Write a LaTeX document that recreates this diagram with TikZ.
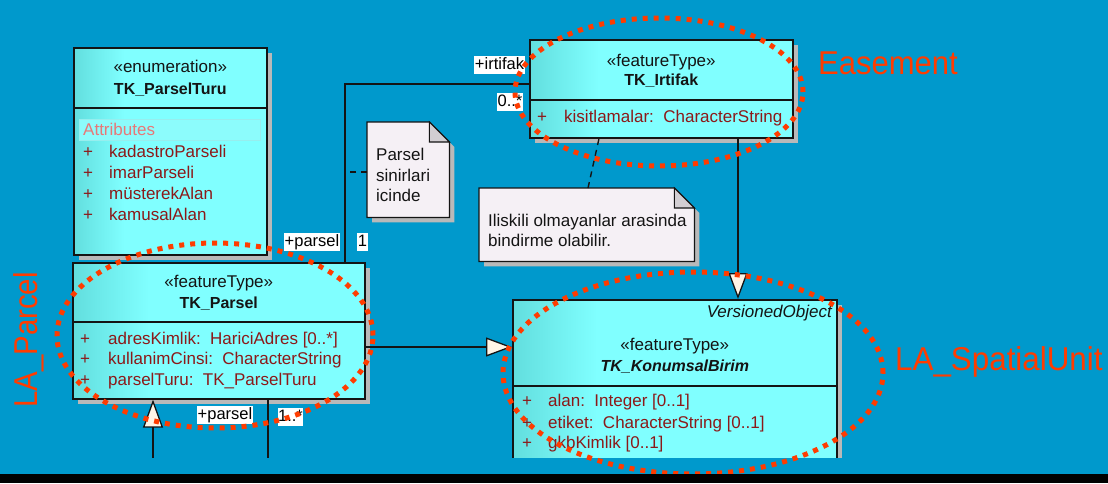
\documentclass[tikz,border=0pt]{standalone}
\usepackage{fontspec}
\setmainfont{Liberation Sans}
\usetikzlibrary{arrows.meta,calc,shadows}
\definecolor{bg}{RGB}{0,153,204}
\definecolor{cyL}{RGB}{128,255,255}
\definecolor{cyD}{RGB}{98,222,222}
\definecolor{attr}{RGB}{140,25,25}
\definecolor{attrhdr}{RGB}{232,120,120}
\definecolor{shgrey}{RGB}{185,185,185}
\definecolor{notefill}{RGB}{245,240,245}
\definecolor{earfill}{RGB}{210,206,210}
\definecolor{tipfill}{RGB}{255,245,230}
\definecolor{hl}{RGB}{255,60,0}
\definecolor{lineblk}{RGB}{20,20,20}
\definecolor{bandfill}{RGB}{140,252,252}
\definecolor{bandline}{RGB}{150,238,238}
\pgfdeclarehorizontalshading{umlgrad}{100bp}{color(0bp)=(cyD); color(25bp)=(cyD); color(38bp)=(cyL); color(100bp)=(cyL)}
\newcommand\umlnote[1]{%
  \fill[shgrey] ($(#1.north west)+(5,5)$) -- ($(#1.north east)+(-15,5)$) -- ($(#1.north east)+(5,25)$) -- ($(#1.south east)+(5,5)$) -- ($(#1.south west)+(5,5)$) -- cycle;
  \filldraw[fill=notefill, draw=lineblk, line width=1.3pt, line join=miter] (#1.north west) -- ($(#1.north east)+(-20,0)$) -- ($(#1.north east)+(0,20)$) -- (#1.south east) -- (#1.south west) -- cycle;
  \filldraw[fill=earfill, draw=lineblk, line width=1.1pt] ($(#1.north east)+(-20,0)$) -- ($(#1.north east)+(0,20)$) -- ($(#1.north east)+(-20,20)$) -- cycle;
}
\begin{document}
\begin{tikzpicture}[x=1pt,y=-1pt,
  umlbox/.style={draw=lineblk, line width=1.6pt, shading=umlgrad, anchor=north west, inner sep=0pt,
    drop shadow={shadow xshift=5pt, shadow yshift=-5pt, fill=shgrey, opacity=1}},
  notebox/.style={anchor=north west, inner sep=0pt},
  sepline/.style={draw=lineblk, line width=1.6pt},
  stereo/.style={font=\fontsize{17}{20}\selectfont, text=lineblk, anchor=base, inner sep=0pt},
  titletxt/.style={font=\fontsize{16}{20}\selectfont\bfseries, text=lineblk, anchor=base, inner sep=0pt},
  attrtxt/.style={font=\fontsize{17}{20}\selectfont, text=attr, anchor=base west, inner sep=0pt},
  notetxt/.style={font=\fontsize{17}{20}\selectfont, text=lineblk, anchor=base west, inner sep=0pt},
  rolelbl/.style={fill=white, font=\fontsize{16.5}{20}\selectfont, text=black, inner xsep=0.5pt, inner ysep=1pt, text height=12.5pt, text depth=3.5pt},
  conn/.style={draw=lineblk, line width=1.5pt},
  gen/.style={conn, -{Triangle[length=26pt, width=19pt, fill=tipfill, line width=1.3pt]}},
  notelink/.style={draw=lineblk, line width=1.4pt, dash pattern=on 6pt off 5pt},
  hlring/.style={draw=hl, line width=5pt, dash pattern=on 5pt off 6pt},
  biglbl/.style={font=\fontsize{33}{36}\selectfont, text=hl, inner sep=0pt}
]
\useasboundingbox (0,0) rectangle (1108,483);
\fill[bg] (0,0) rectangle (1108,483);

\begin{scope}
\clip (0,0) rectangle (1108,457.5);

% ---- TK_ParselTuru
\node[umlbox, minimum width=193pt, minimum height=207pt] (turu) at (73,47) {};
\draw[sepline] (turu.west |- 0,108) -- (turu.east |- 0,108);
\node[stereo] at ($(turu.north)+(0,25)$) {«enumeration»};
\node[titletxt] at ($(turu.north)+(0,47)$) {TK\_ParselTuru};
\filldraw[fill=bandfill, draw=bandline, line width=1pt] (79,119) rectangle (260,140);
\node[attrtxt, text=attrhdr] at (83,135) {Attributes};
\foreach \y/\t in {157/kadastroParseli, 178/imarParseli, 199/müsterekAlan, 220/kamusalAlan}{
  \node[attrtxt] at (83,\y) {+};
  \node[attrtxt] at (109,\y) {\t};
}

% ---- TK_Parsel
\node[umlbox, minimum width=292pt, minimum height=136pt] (parsel) at (72,262) {};
\draw[sepline] (parsel.west |- 0,322) -- (parsel.east |- 0,322);
\node[stereo] at ($(parsel.north)+(0,25)$) {«featureType»};
\node[titletxt] at ($(parsel.north)+(0,46)$) {TK\_Parsel};
\node[attrtxt] at (80,344) {+};
\node[attrtxt] at (108,344) {adresKimlik:\ \ HariciAdres [0..*]};
\node[attrtxt] at (80,364.5) {+};
\node[attrtxt] at (108,364.5) {kullanimCinsi:\ \ CharacterString};
\node[attrtxt] at (80,385) {+};
\node[attrtxt] at (108,385) {parselTuru:\ \ TK\_ParselTuru};

% ---- TK_Irtifak
\node[umlbox, minimum width=263pt, minimum height=98pt] (irtifak) at (529,39) {};
\draw[sepline] (irtifak.west |- 0,100) -- (irtifak.east |- 0,100);
\node[stereo] at ($(irtifak.north)+(0,27)$) {«featureType»};
\node[titletxt] at ($(irtifak.north)+(0,46)$) {TK\_Irtifak};
\node[attrtxt] at (537,122) {+};
\node[attrtxt] at (564,122) {kisitlamalar:\ \ CharacterString};

% ---- TK_KonumsalBirim
\node[umlbox, minimum width=324pt, minimum height=190pt] (konum) at (512,299) {};
\draw[sepline] (konum.west |- 0,386) -- (konum.east |- 0,386);
\node[stereo, anchor=base east] at (832,317.7) {\itshape VersionedObject};
\node[stereo] at ($(konum.north)+(0,51)$) {«featureType»};
\node[titletxt] at ($(konum.north)+(0,72)$) {\itshape TK\_KonumsalBirim};
\node[attrtxt] at (522,406.7) {+};
\node[attrtxt] at (548,406.7) {alan:\ \ Integer [0..1]};
\node[attrtxt] at (522,428) {+};
\node[attrtxt] at (548,428) {etiket:\ \ CharacterString [0..1]};
\node[attrtxt] at (522,448.5) {+};
\node[attrtxt] at (548,448.5) {gkbKimlik [0..1]};

% ---- notes
\node[notebox, minimum width=82pt, minimum height=95pt] (n1) at (367,122) {};
\umlnote{n1}
\node[notetxt] at (376,160.7) {Parsel};
\node[notetxt] at (376,181.7) {sinirlari};
\node[notetxt] at (376,201.7) {icinde};

\node[notebox, minimum width=215pt, minimum height=73pt] (n2) at (479,188) {};
\umlnote{n2}
\node[notetxt] at (488,226.7) {Iliskili olmayanlar arasinda};
\node[notetxt] at (488,246) {bindirme olabilir.};

% ---- connectors
\coordinate (bend) at (345,84);
\draw[conn] (bend |- parsel.north) -- (bend) -- (bend -| irtifak.west);
\coordinate (ny) at (0,172);
\draw[notelink] (n1.west |- ny) -- (bend |- ny);
\coordinate (d1) at (588,0);
\coordinate (d2) at (599,0);
\draw[notelink] (n2.north -| d1) -- (irtifak.south -| d2);
\coordinate (hy) at (0,347);
\draw[gen] (parsel.east |- hy) -- (konum.west |- hy);
\coordinate (vx) at (738,0);
\draw[gen] (irtifak.south -| vx) -- (konum.north -| vx);
\coordinate (g1) at (153,458);
\draw[conn, -{Triangle[length=28pt, width=20pt, fill=tipfill, line width=1.3pt]}] (g1) -- (g1 |- parsel.south);
\coordinate (a1) at (268,458);
\draw[conn] (parsel.south -| a1) -- (a1);

% ---- role labels
\node[rolelbl] at (499.5,65) {+irtifak};
\node[rolelbl] at (510,102) {0..*};
\node[rolelbl] at (312,242) {+parsel};
\node[rolelbl] at (362.5,241.5) {1};
\node[rolelbl] at (225,414.5) {+parsel};
\node[rolelbl] at (290.5,417) {1..*};
\end{scope}

% ---- highlight rings and labels
\draw[hlring] (215,335.5) ellipse [x radius=158pt, y radius=92.5pt];
\draw[hlring] (659,92) ellipse [x radius=144pt, y radius=74pt];
\draw[hlring] (693,373) ellipse [x radius=190pt, y radius=101pt];
\node[biglbl, anchor=base west] at (818,74.3) {\scalebox{0.94}[1]{Easement}};
\node[biglbl, anchor=base west] at (895,370) {\scalebox{0.95}[1]{LA\_SpatialUnit}};
\node[biglbl, rotate=90, anchor=base west] at (37.7,408) {\scalebox{0.89}[1]{LA\_Parcel}};

\fill[black] (0,474) rectangle (1108,483);
\end{tikzpicture}
\end{document}
